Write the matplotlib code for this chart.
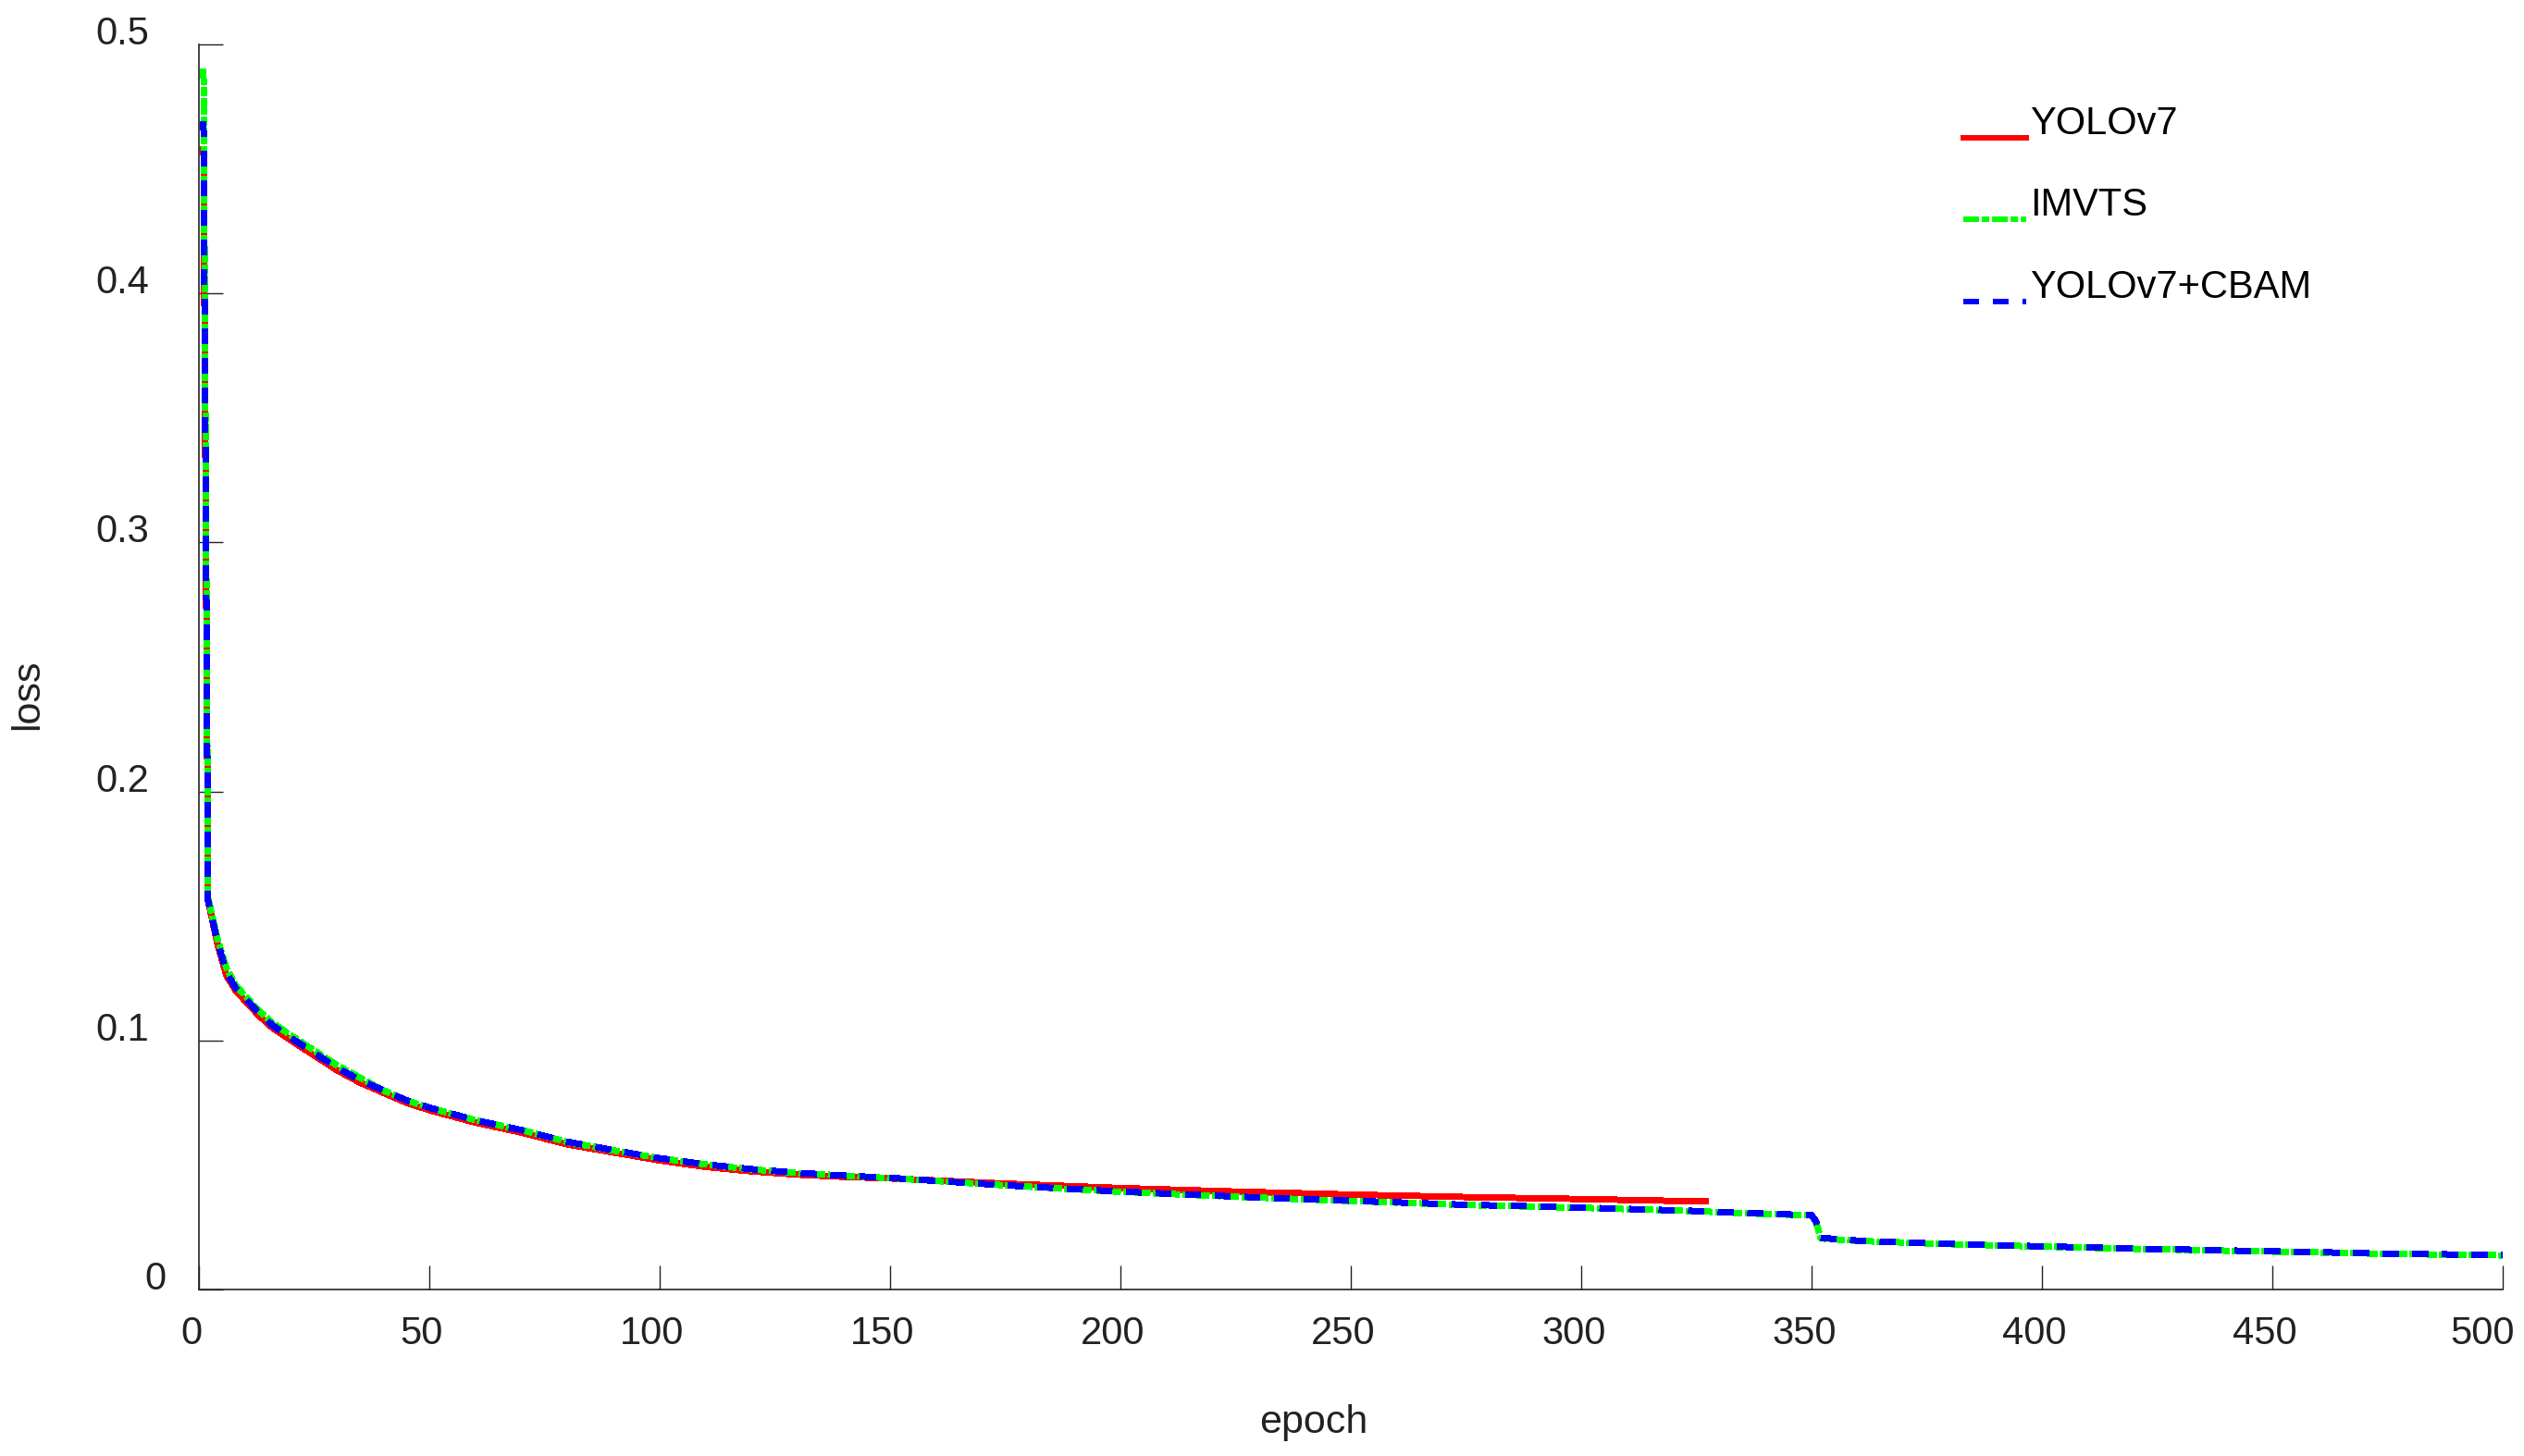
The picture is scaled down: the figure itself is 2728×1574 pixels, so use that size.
"""
Training loss curves: YOLOv7, IMVTS and YOLOv7+CBAM
"""
import numpy as np
import matplotlib
matplotlib.use("Agg")
import matplotlib.pyplot as plt
from matplotlib.transforms import ScaledTranslation

plt.rcParams["font.family"] = ["Liberation Sans", "DejaVu Sans"]
plt.rcParams["lines.scale_dashes"] = False

# values
epochs_yolo = [1, 2, 4, 6, 8, 10, 13, 16, 20, 25, 30, 35, 40, 45, 50, 60, 70,
               80, 90, 100, 110, 120, 130, 140, 150, 175, 200, 225, 250, 275,
               300, 327]
loss_yolo = [0.458, 0.156, 0.139, 0.126, 0.120, 0.116, 0.110, 0.105, 0.100,
             0.094, 0.088, 0.083, 0.079, 0.075, 0.072, 0.067, 0.063, 0.0582,
             0.0550, 0.0518, 0.0492, 0.0474, 0.0461, 0.0452, 0.0446, 0.0425,
             0.0407, 0.0393, 0.0381, 0.0371, 0.0363, 0.0353]

epochs_long = [1, 2, 4, 6, 8, 10, 13, 16, 20, 25, 30, 35, 40, 45, 50, 60, 70,
               80, 90, 100, 110, 120, 130, 140, 150, 175, 200, 225, 250, 275,
               300, 325, 340, 350, 351, 352, 360, 380, 400, 425, 450, 475, 500]
loss_imvts = [0.490, 0.157, 0.141, 0.129, 0.122, 0.118, 0.112, 0.107, 0.102,
              0.096, 0.090, 0.085, 0.080, 0.076, 0.073, 0.068, 0.064, 0.0592,
              0.0558, 0.0527, 0.0502, 0.0482, 0.0468, 0.0457, 0.0447, 0.0418,
              0.0392, 0.0372, 0.0355, 0.0339, 0.0328, 0.0314, 0.0303, 0.0297,
              0.0270, 0.0205, 0.0195, 0.0182, 0.0172, 0.0161, 0.0152, 0.0143,
              0.0137]
loss_cbam = [0.469, 0.156, 0.140, 0.127, 0.121, 0.117, 0.111, 0.106, 0.101,
             0.095, 0.089, 0.084, 0.080, 0.076, 0.073, 0.068, 0.064, 0.0593,
             0.0559, 0.0527, 0.0502, 0.0483, 0.0468, 0.0457, 0.0448, 0.0418,
             0.0393, 0.0373, 0.0356, 0.0340, 0.0329, 0.0315, 0.0304, 0.0298,
             0.0272, 0.0207, 0.0196, 0.0183, 0.0173, 0.0162, 0.0153, 0.0144,
             0.0138]

x_ticks = [0, 50, 100, 150, 200, 250, 300, 350, 400, 450, 500]
y_ticks = [0, 0.1, 0.2, 0.3, 0.4, 0.5]
y_tick_labels = ["0", "0.1", "0.2", "0.3", "0.4", "0.5"]

fig = plt.figure(figsize=(27.28, 15.74), dpi=100)
ax = fig.add_axes([0.0788, 0.1144, 0.9128, 0.8551])

lw = 4.3
ax.plot(epochs_yolo, loss_yolo, color="#ff0000", lw=lw, ls="-",
        label="YOLOv7", antialiased=False)
ax.plot(epochs_long, loss_imvts, color="#00ff00", lw=lw,
        dashes=(12.2, 2.2, 5.8, 2.2), label="IMVTS", antialiased=False)
ax.plot(epochs_long, loss_cbam, color="#0000ff", lw=lw,
        dashes=(12.2, 10.8), label="YOLOv7+CBAM", antialiased=False)

ax.set_xlim(0, 500)
ax.set_ylim(0, 0.5)
ax.set_xticks(x_ticks)
ax.set_yticks(y_ticks)
ax.set_yticklabels(y_tick_labels)

for side in ["top", "right"]:
    ax.spines[side].set_visible(False)
for side in ["left", "bottom"]:
    ax.spines[side].set_linewidth(1.2)
    ax.spines[side].set_color("#222222")

ax.tick_params(axis="both", direction="in", length=18.7, width=1.0,
               color="#222222", labelsize=30, labelcolor="#222222")
ax.tick_params(axis="x", pad=20)
ax.tick_params(axis="y", pad=39)

# y tick labels sit a little above their ticks
for lab in ax.get_yticklabels():
    lab.set_verticalalignment("baseline")
ylabs = ax.get_yticklabels()
ylabs[0].set_transform(ylabs[0].get_transform()
                       + ScaledTranslation(19 / 100, 0, fig.dpi_scale_trans))

# x tick labels drift slightly left of their ticks
xlabs = ax.get_xticklabels()
for i, lab in enumerate(xlabs):
    dx = -22 if i == len(xlabs) - 1 else -8
    lab.set_transform(lab.get_transform()
                      + ScaledTranslation(dx / 100, 0, fig.dpi_scale_trans))

ax.set_xlabel("epoch", fontsize=31, color="#222222")
ax.xaxis.set_label_coords(0.484, -0.092)
ax.set_ylabel("loss", fontsize=31, color="#222222")
ax.yaxis.set_label_coords(-0.066, 0.478)

leg = ax.legend(loc="upper left", bbox_to_anchor=(0.766, 0.951),
                frameon=False, fontsize=30, handlelength=1.63,
                handletextpad=0.1, labelspacing=1.16, borderpad=0,
                borderaxespad=0)
# keys drawn at the text baseline, as in the original
for line in leg.get_lines():
    yd = np.asarray(line.get_ydata(), dtype=float)
    line.set_ydata(yd - 13.5)

fig.savefig("out.png", dpi=100)
